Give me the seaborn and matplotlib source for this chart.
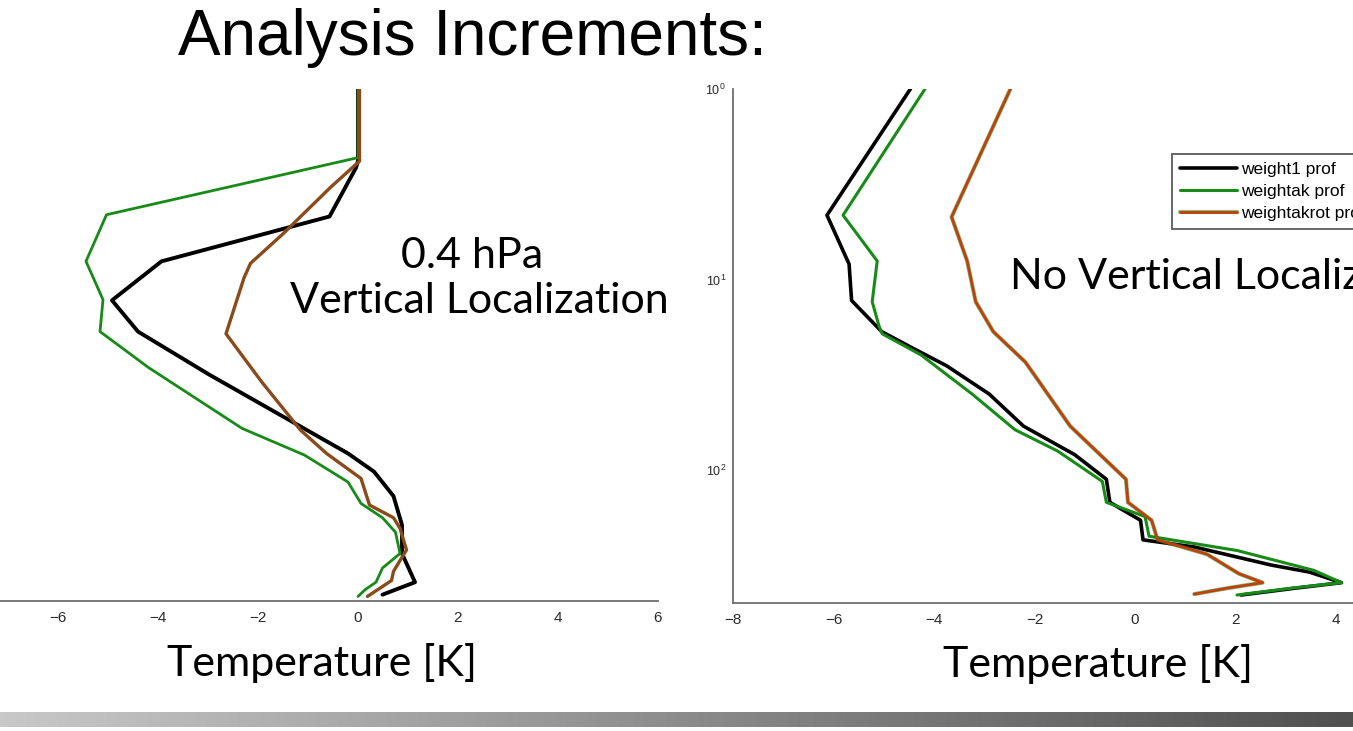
import numpy as np
import matplotlib
matplotlib.use("Agg")
import matplotlib.pyplot as plt
import matplotlib.patheffects as pe
from matplotlib.colors import LinearSegmentedColormap
import seaborn as sns

# ---------------- data (temperature increment [K] vs pressure [hPa]) ----------------
# Left panel: 0.4 hPa vertical localization
left_w1_T = [0, 0, -0.04, -0.57, -3.93, -4.92, -4.40, -2.97, -1.15, -0.20, 0.32, 0.71, 0.88, 0.88, 1.14, 0.49]
left_w1_p = [1.0, 2.4, 2.6, 4.7, 8.1, 13.0, 19.0, 32.1, 60.1, 83.4, 104, 140, 199, 281, 398, 463]

left_tak_T = [0, 0, -5.03, -5.44, -5.10, -5.16, -4.19, -2.32, -1.07, -0.20, 0.06, 0.49, 0.75, 0.84, 0.49, 0.36, 0.15, 0]
left_tak_p = [1.0, 2.3, 4.6, 8.1, 12.9, 19.0, 29.4, 61.5, 85.1, 118, 153, 182, 217, 281, 335, 398, 434, 473]

left_rot_T = [0.03, 0.03, -0.55, -1.50, -2.15, -2.28, -2.64, -1.93, -1.15, -0.63, 0.06, 0.23, 0.71, 0.84, 0.97, 0.88, 0.71, 0.67, 0.19]
left_rot_p = [1.0, 2.4, 3.3, 5.8, 8.3, 9.9, 19.5, 34.9, 62.8, 83.4, 113, 156, 182, 207, 269, 294, 349, 390, 473]

# Right panel: no vertical localization
right_w1_T = [-4.47, -6.13, -5.69, -5.64, -5.04, -4.43, -3.75, -2.90, -2.22, -1.20, -0.57, -0.50, 0.11, 0.16, 1.18, 2.71, 3.47, 4.11, 3.22, 2.11]
right_w1_p = [1.0, 4.6, 8.3, 12.9, 18.8, 22.9, 28.4, 40.0, 58.9, 83.2, 112, 148, 184, 233, 254, 316, 344, 391, 417, 454]

right_tak_T = [-4.18, -5.81, -5.13, -5.23, -5.09, -5.03, -4.26, -3.24, -2.39, -1.54, -0.65, -0.57, 0.20, 0.28, 2.03, 3.56, 4.11, 3.14, 2.03]
right_tak_p = [1.0, 4.6, 8.0, 13.1, 17.7, 19.3, 24.9, 40.0, 61.5, 79.6, 115, 148, 176, 223, 265, 337, 391, 417, 454]

right_rot_T = [-2.48, -3.65, -3.34, -3.17, -2.82, -2.18, -1.29, -0.18, -0.14, 0.33, 0.45, 1.43, 2.07, 2.54, 1.86, 1.18]
right_rot_p = [1.0, 4.7, 8.0, 13.1, 18.8, 27.2, 58.9, 112, 148, 184, 233, 277, 351, 391, 417, 449]

series_labels = ["weight1 prof", "weightak prof", "weightakrot prof"]
left_x_ticks = [-6, -4, -2, 0, 2, 4, 6]
right_x_ticks = [-8, -6, -4, -2, 0, 2, 4]
right_y_ticks = [1, 10, 100]

# ---------------- style ----------------
sns.set_style("white")
plt.rcParams['font.family'] = ['Liberation Sans', 'DejaVu Sans']
plt.rcParams['axes.unicode_minus'] = True
plt.rcParams['text.color'] = 'black'

BLACK = "#000000"
GREEN = "#168c16"
BROWN = "#8b4a1a"
RED = "#c43e0c"

fig = plt.figure(figsize=(13.53, 7.31), dpi=100)

W, H = 1353.0, 731.0
axL = fig.add_axes([-42 / W, (H - 601) / H, 700 / W, 512 / H])
axR = fig.add_axes([733 / W, (H - 603) / H, 703.5 / W, 514 / H])

# left panel
sns.lineplot(x=left_w1_T, y=left_w1_p, sort=False, estimator=None, ax=axL,
             color=BLACK, lw=2.8, legend=False)
sns.lineplot(x=left_tak_T, y=left_tak_p, sort=False, estimator=None, ax=axL,
             color=GREEN, lw=2.0, legend=False)
sns.lineplot(x=left_rot_T, y=left_rot_p, sort=False, estimator=None, ax=axL,
             color=BROWN, lw=2.4, legend=False)

# right panel
sns.lineplot(x=right_w1_T, y=right_w1_p, sort=False, estimator=None, ax=axR,
             color=BLACK, lw=2.6, label=series_labels[0])
sns.lineplot(x=right_tak_T, y=right_tak_p, sort=False, estimator=None, ax=axR,
             color=GREEN, lw=2.2, label=series_labels[1])
sns.lineplot(x=right_rot_T, y=right_rot_p, sort=False, estimator=None, ax=axR,
             color=RED, lw=2.0, label=series_labels[2],
             path_effects=[pe.Stroke(linewidth=3.0, foreground=GREEN, alpha=0.55), pe.Normal()])

for ax in (axL, axR):
    ax.set_yscale('log')
    ax.set_ylim(500, 1)
    ax.set_xlim(-8, 6)
    ax.set_xlabel('')
    ax.set_ylabel('')
    ax.set_facecolor('none')
    for s in ('top', 'right'):
        ax.spines[s].set_visible(False)
    for s in ('left', 'bottom'):
        ax.spines[s].set_color('#6e6e6e')
        ax.spines[s].set_linewidth(1.3)
    ax.tick_params(axis='both', which='major', direction='in', length=4,
                   color='#6e6e6e', labelsize=11, labelcolor='#2a2a2a', pad=7)
    ax.tick_params(axis='both', which='minor', direction='in', length=2.5, color='#888888')

axL.set_xticks(left_x_ticks)
axR.set_xticks(right_x_ticks)
axL.set_yticks([])
axL.set_yticks([], minor=True)
axL.spines['left'].set_visible(False)
axR.set_yticks(right_y_ticks)
axR.tick_params(axis='y', which='major', labelsize=9, pad=5)

leg = axR.legend(loc='upper left', bbox_to_anchor=(1172 / W, 1 - 154 / H),
                 bbox_transform=fig.transFigure, frameon=True, fancybox=False,
                 fontsize=12.5, handlelength=3.3, handletextpad=0.2, labelspacing=0.4,
                 borderpad=0.45, borderaxespad=0)
leg.get_frame().set_edgecolor('#333333')
leg.get_frame().set_linewidth(1.3)

# ---------------- texts ----------------
fig.text(178 / W, 1 - 38 / H, "Analysis Increments:", fontsize=46, color='black',
         ha='left', va='center', family=['Liberation Sans'])

calib = ['Lato', 'DejaVu Sans']
fig.text(472 / W, 1 - 256 / H, "0.4 hPa", fontsize=31, ha='center', va='center', family=calib, color='black')
fig.text(479 / W, 1 - 301 / H, "Vertical Localization", fontsize=31, ha='center', va='center', family=calib, color='black')
fig.text(1010 / W, 1 - 277 / H, "No Vertical Localization", fontsize=31, ha='left', va='center', family=calib, color='black')
fig.text(322 / W, 1 - 663 / H, "Temperature [K]", fontsize=31, ha='center', va='center', family=calib, color='black')
fig.text(1098 / W, 1 - 664 / H, "Temperature [K]", fontsize=31, ha='center', va='center', family=calib, color='black')

# ---------------- bottom gradient bar ----------------
bar = fig.add_axes([0, (H - 727) / H, 1, 15 / H])
cmap = LinearSegmentedColormap.from_list('bar', ['#c8c8c8', '#505050'])
bar.imshow(np.linspace(0, 1, 256)[None, :], aspect='auto', cmap=cmap)
bar.set_axis_off()

fig.savefig("out.png", dpi=100)
